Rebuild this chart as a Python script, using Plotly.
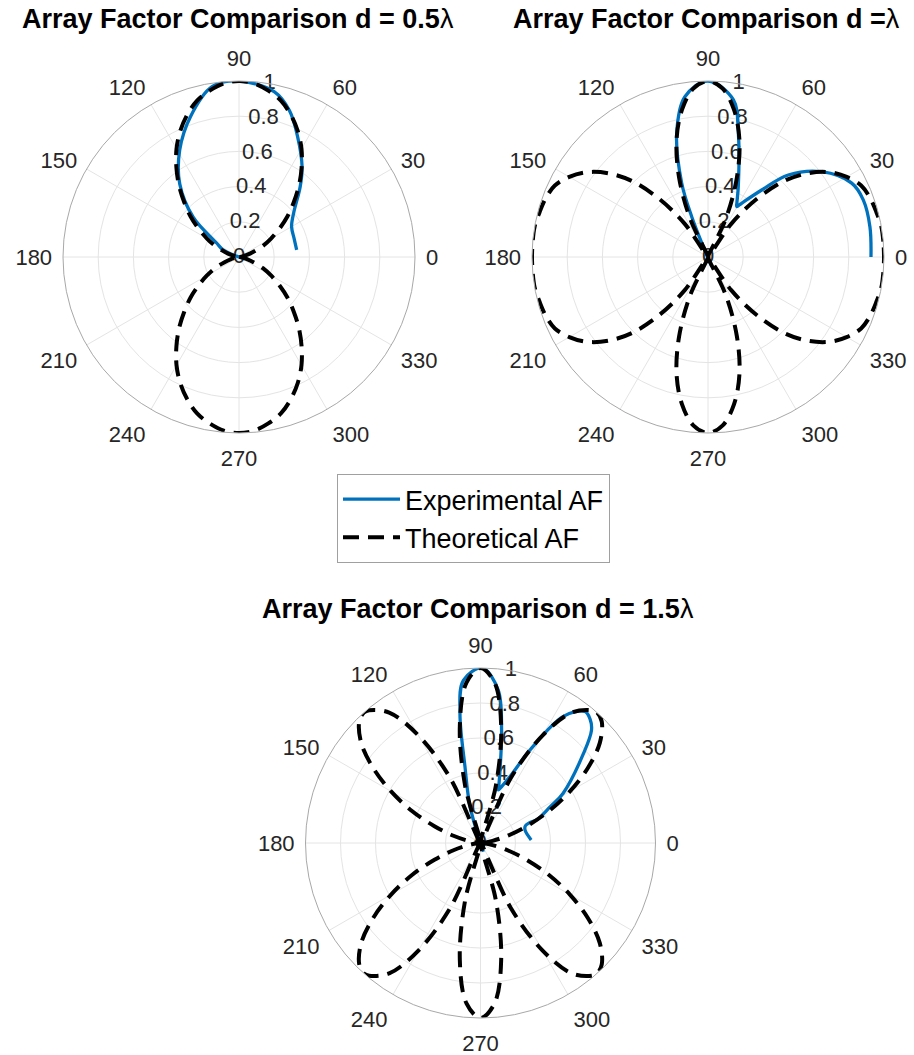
import plotly.graph_objects as go

W, H = 914, 1055
FONT = "Liberation Sans, Arial, sans-serif"
BLUE = "#0072BD"

# ---- data -------------------------------------------------------------
# radial tick values / labels (drawn along the 80 degree spoke)
r_tick_vals = [0, 0.2, 0.4, 0.6, 0.8, 1.0]
r_tick_text = ["0", "0.2", "0.4", "0.6", "0.8", "1"]

# angular ticks
ang_tick_vals = [0, 30, 60, 90, 120, 150, 180, 210, 240, 270, 300, 330]

# theoretical array factor, d = 0.5 lambda and d = lambda (every 5 degrees)
theta_theory = list(range(0, 365, 5))
af_theory_05 = [
    0.00, 0.01, 0.02, 0.05, 0.09, 0.15, 0.21, 0.28, 0.36, 0.44, 0.53, 0.62, 0.71, 0.79, 0.86, 0.92, 0.96, 0.99, 1.00,
    0.99, 0.96, 0.92, 0.86, 0.79, 0.71, 0.62, 0.53, 0.44, 0.36, 0.28, 0.21, 0.15, 0.09, 0.05, 0.02, 0.01, 0.00,
    0.01, 0.02, 0.05, 0.09, 0.15, 0.21, 0.28, 0.36, 0.44, 0.53, 0.62, 0.71, 0.79, 0.86, 0.92, 0.96, 0.99, 1.00,
    0.99, 0.96, 0.92, 0.86, 0.79, 0.71, 0.62, 0.53, 0.44, 0.36, 0.28, 0.21, 0.15, 0.09, 0.05, 0.02, 0.01, 0.00,
]
af_theory_10 = [
    1.00, 1.00, 1.00, 0.99, 0.98, 0.96, 0.91, 0.84, 0.74, 0.61, 0.43, 0.23, 0.00, 0.24, 0.48, 0.69, 0.85, 0.96, 1.00,
    0.96, 0.85, 0.69, 0.48, 0.24, 0.00, 0.23, 0.43, 0.61, 0.74, 0.84, 0.91, 0.96, 0.98, 0.99, 1.00, 1.00, 1.00,
    1.00, 1.00, 0.99, 0.98, 0.96, 0.91, 0.84, 0.74, 0.61, 0.43, 0.23, 0.00, 0.24, 0.48, 0.69, 0.85, 0.96, 1.00,
    0.96, 0.85, 0.69, 0.48, 0.24, 0.00, 0.23, 0.43, 0.61, 0.74, 0.84, 0.91, 0.96, 0.98, 0.99, 1.00, 1.00, 1.00,
]

# theoretical array factor, d = 1.5 lambda (extra samples at lobe peaks / nulls)
theta_theory_15 = [
    0, 5, 10, 15, 20, 25, 30, 35, 40, 45, 48.2, 50, 55, 60, 65, 70.5, 75, 80, 85, 90,
    95, 100, 105, 109.5, 115, 120, 125, 130, 131.8, 135, 140, 145, 150, 155, 160, 165, 170, 175, 180,
    185, 190, 195, 200, 205, 210, 215, 220, 225, 228.2, 230, 235, 240, 245, 250.5, 255, 260, 265, 270,
    275, 280, 285, 289.5, 295, 300, 305, 310, 311.8, 315, 320, 325, 330, 335, 340, 345, 350, 355, 360,
]
af_theory_15 = [
    0.00, 0.02, 0.07, 0.16, 0.28, 0.43, 0.59, 0.75, 0.89, 0.98, 1.00, 0.99, 0.91, 0.71, 0.41, 0.00, 0.34, 0.68, 0.92, 1.00,
    0.92, 0.68, 0.34, 0.00, 0.41, 0.71, 0.91, 0.99, 1.00, 0.98, 0.89, 0.75, 0.59, 0.43, 0.28, 0.16, 0.07, 0.02, 0.00,
    0.02, 0.07, 0.16, 0.28, 0.43, 0.59, 0.75, 0.89, 0.98, 1.00, 0.99, 0.91, 0.71, 0.41, 0.00, 0.34, 0.68, 0.92, 1.00,
    0.92, 0.68, 0.34, 0.00, 0.41, 0.71, 0.91, 0.99, 1.00, 0.98, 0.89, 0.75, 0.59, 0.43, 0.28, 0.16, 0.07, 0.02, 0.00,
]

# measured array factor
theta_exp_05 = [7, 18, 30, 39, 49, 55, 64, 71, 78, 90, 99, 109, 119, 129, 139, 148, 156, 160, 343]
af_exp_05 = [0.33, 0.33, 0.345, 0.40, 0.53, 0.625, 0.76, 0.88, 0.96, 1.00, 0.98, 0.845, 0.695, 0.535, 0.345,
             0.15, 0.10, 0.045, 0.026]

theta_exp_10 = [0, 10.6, 20.2, 27.2, 36.9, 45.6, 51.3, 58, 60.3, 62, 66.7, 76.2, 80.8, 90, 98.2, 104.2,
                109.6, 112, 114.5, 291]
af_exp_10 = [0.926, 0.936, 0.94, 0.918, 0.807, 0.652, 0.488, 0.36, 0.33, 0.35, 0.435, 0.723, 0.904, 1.00,
             0.92, 0.725, 0.445, 0.247, 0.064, 0.059]

theta_exp_15 = [3.5, 16, 21, 22.5, 22.5, 27.5, 31, 41, 45.5, 48.5, 51.5, 56.8, 62, 66, 69.3, 71.4, 72.6,
                75, 79.4, 83.4, 89.4, 96, 99, 101.5, 106, 288]
af_exp_15 = [0.29, 0.265, 0.275, 0.31, 0.35, 0.45, 0.55, 0.78, 0.905, 0.945, 0.96, 0.865, 0.60, 0.415,
             0.348, 0.32, 0.353, 0.43, 0.655, 0.88, 1.00, 0.935, 0.75, 0.445, 0.215, 0.052]

titles = [
    ("<b>Array Factor Comparison d = 0.5</b>λ", 238, 18.5),
    ("<b>Array Factor Comparison d =</b>λ", 706.5, 18.5),
    ("<b>Array Factor Comparison d = 1.5</b>λ", 477.5, 609),
]

# ---- layout helpers (pixel boxes of each polar area: left, top, size) ----
polar_boxes = [(63, 81, 352), (532, 81, 352), (305.5, 668, 350)]


def polar_layout(left, top, size):
    return dict(
        domain=dict(x=[left / W, (left + size) / W], y=[1 - (top + size) / H, 1 - top / H]),
        bgcolor="white",
        angularaxis=dict(
            rotation=0, direction="counterclockwise",
            tickmode="array", tickvals=ang_tick_vals,
            ticktext=[str(v) for v in ang_tick_vals],
            showline=True, linecolor="#a8a8a8", linewidth=1,
            showgrid=True, gridcolor="#e4e4e4", gridwidth=1,
            ticks="outside", ticklen=6, tickcolor="rgba(0,0,0,0)",
            tickfont=dict(family=FONT, size=22, color="#262626"),
        ),
        radialaxis=dict(
            range=[0, 1], tickmode="array", tickvals=r_tick_vals[1:],
            showticklabels=False, ticks="", showline=False,
            showgrid=True, gridcolor="#e4e4e4", gridwidth=1, angle=80,
        ),
    )


fig = go.Figure()
series = [
    (theta_theory, af_theory_05, theta_exp_05, af_exp_05),
    (theta_theory, af_theory_10, theta_exp_10, af_exp_10),
    (theta_theory_15, af_theory_15, theta_exp_15, af_exp_15),
]
for i, (th_t, r_t, th_e, r_e) in enumerate(series):
    sub = "polar" if i == 0 else f"polar{i + 1}"
    fig.add_trace(go.Scatterpolar(
        r=r_tick_vals, theta=[80] * len(r_tick_vals), mode="text", text=r_tick_text,
        textposition="middle center", textfont=dict(family=FONT, size=22, color="#262626"),
        showlegend=False, hoverinfo="skip", cliponaxis=False, subplot=sub,
    ))
    fig.add_trace(go.Scatterpolar(
        r=r_e, theta=th_e, mode="lines", name="Experimental AF",
        line=dict(color=BLUE, width=3.3, shape="spline"),
        showlegend=(i == 0), legendrank=1, cliponaxis=False, subplot=sub,
    ))
    fig.add_trace(go.Scatterpolar(
        r=r_t, theta=th_t, mode="lines", name="Theoretical AF",
        line=dict(color="black", width=4, dash="16px,9px", shape="spline"),
        showlegend=(i == 0), legendrank=2, cliponaxis=False, subplot=sub,
    ))

layout = dict(
    width=W, height=H, autosize=False,
    margin=dict(l=0, r=0, t=0, b=0),
    paper_bgcolor="white",
    showlegend=True,
    legend=dict(
        x=337 / W, y=1 - 474 / H, xanchor="left", yanchor="top",
        bgcolor="white", bordercolor="#a0a0a0", borderwidth=1,
        font=dict(family=FONT, size=27, color="black"),
        traceorder="normal", itemwidth=57,
    ),
    annotations=[
        dict(text=t, x=x / W, y=1 - y / H, xref="paper", yref="paper",
             xanchor="center", yanchor="middle", showarrow=False,
             font=dict(family=FONT, size=27, color="black"))
        for t, x, y in titles
    ],
)
for i, box in enumerate(polar_boxes):
    layout["polar" if i == 0 else f"polar{i + 1}"] = polar_layout(*box)
fig.update_layout(**layout)

fig.write_html("out.html")
